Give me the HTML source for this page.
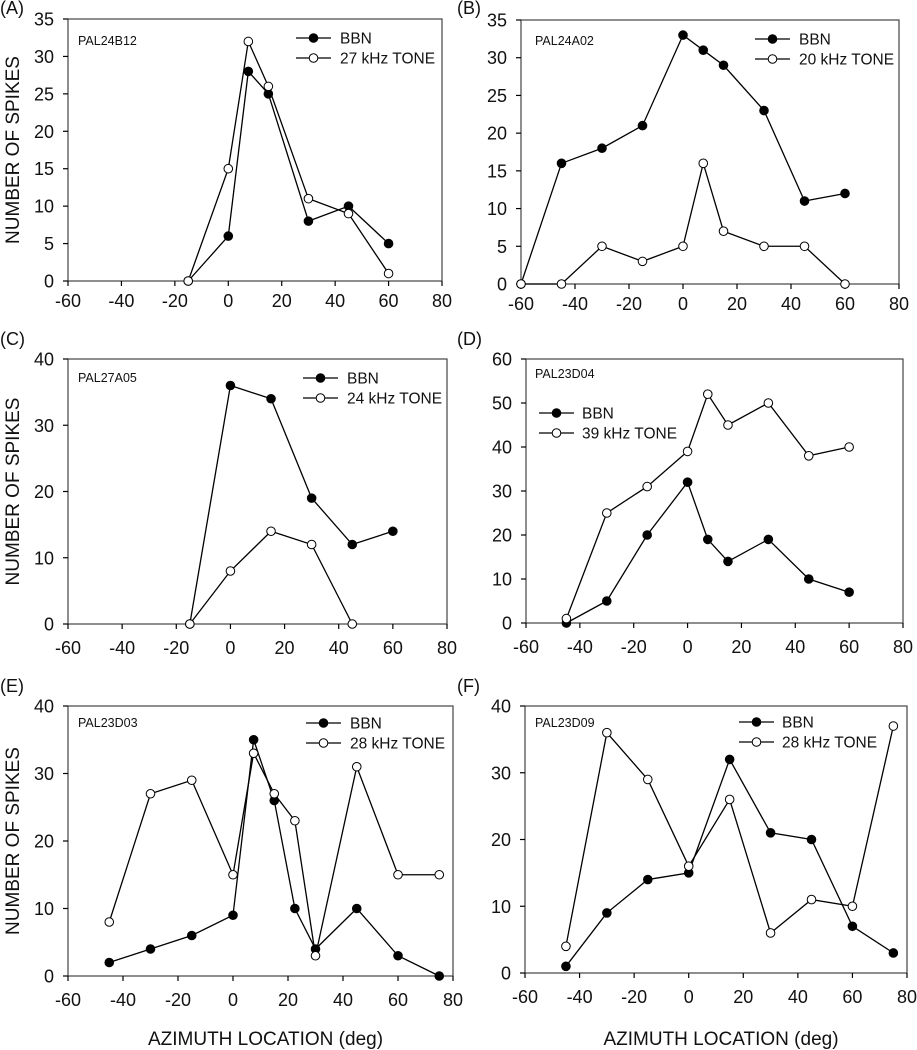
<!DOCTYPE html>
<html><head><meta charset="utf-8"><style>
body{margin:0;background:#fff}
svg{display:block;font-family:"Liberation Sans",Arial,sans-serif}
</style></head><body>
<svg id="fig" width="917" height="1050" viewBox="0 0 917 1050"></svg>
<script>
const xTicks=[-60,-40,-20,0,20,40,60,80];
const panelLetters=["(A)","(B)","(C)","(D)","(E)","(F)"];
const unitNames=["PAL24B12","PAL24A02","PAL27A05","PAL23D04","PAL23D03","PAL23D09"];
const toneNames=["27 kHz TONE","20 kHz TONE","24 kHz TONE","39 kHz TONE","28 kHz TONE","28 kHz TONE"];
const yMax=[35,35,40,60,40,40];
const yStep=[5,5,10,10,10,10];
const bbnX_A=[-15,0,7.5,15,30,45,60];
const bbnY_A=[0,6,28,25,8,10,5];
const toneX_A=[-15,0,7.5,15,30,45,60];
const toneY_A=[0,15,32,26,11,9,1];
const bbnX_B=[-60,-45,-30,-15,0,7.5,15,30,45,60];
const bbnY_B=[0,16,18,21,33,31,29,23,11,12];
const toneX_B=[-60,-45,-30,-15,0,7.5,15,30,45,60];
const toneY_B=[0,0,5,3,5,16,7,5,5,0];
const bbnX_C=[-15,0,15,30,45,60];
const bbnY_C=[0,36,34,19,12,14];
const toneX_C=[-15,0,15,30,45];
const toneY_C=[0,8,14,12,0];
const bbnX_D=[-45,-30,-15,0,7.5,15,30,45,60];
const bbnY_D=[0,5,20,32,19,14,19,10,7];
const toneX_D=[-45,-30,-15,0,7.5,15,30,45,60];
const toneY_D=[1,25,31,39,52,45,50,38,40];
const bbnX_E=[-45,-30,-15,0,7.5,15,22.5,30,45,60,75];
const bbnY_E=[2,4,6,9,35,26,10,4,10,3,0];
const toneX_E=[-45,-30,-15,0,7.5,15,22.5,30,45,60,75];
const toneY_E=[8,27,29,15,33,27,23,3,31,15,15];
const bbnX_F=[-45,-30,-15,0,15,30,45,60,75];
const bbnY_F=[1,9,14,15,32,21,20,7,3];
const toneX_F=[-45,-30,-15,0,15,30,45,60,75];
const toneY_F=[4,36,29,16,26,6,11,10,37];

const boxes=[
 {l:68,r:442,t:19,b:281,leg:[296,38,340],name:[78,45],xo:26},
 {l:521,r:899,t:20,b:284,leg:[755,39,799],name:[535,45],xo:26},
 {l:68,r:447,t:359,b:624,leg:[303,378,347],name:[78,382],xo:30},
 {l:526,r:903,t:359,b:623,leg:[539,413,582],name:[535,378],xo:30},
 {l:68,r:453,t:706,b:976,leg:[306,723,350],name:[78,727],xo:30},
 {l:525,r:907,t:706,b:973,leg:[739,722,782],name:[535,727],xo:30}
];
const series=[[bbnX_A,bbnY_A,toneX_A,toneY_A],[bbnX_B,bbnY_B,toneX_B,toneY_B],[bbnX_C,bbnY_C,toneX_C,toneY_C],[bbnX_D,bbnY_D,toneX_D,toneY_D],[bbnX_E,bbnY_E,toneX_E,toneY_E],[bbnX_F,bbnY_F,toneX_F,toneY_F]];
const NS="http://www.w3.org/2000/svg";
const svg=document.getElementById('fig');
function mk(tag,attrs,parent,text){const e=document.createElementNS(NS,tag);for(const k in attrs)e.setAttribute(k,attrs[k]);if(text!==undefined)e.textContent=text;(parent||svg).appendChild(e);return e;}

boxes.forEach((b,i)=>{
  const g=mk('g',{});
  
  
  const sx=v=>b.l+(v+60)/140*(b.r-b.l);
  const sy=v=>b.b-v/yMax[i]*(b.b-b.t);
  const frame=mk('rect',{x:b.l,y:b.t,width:b.r-b.l,height:b.b-b.t,fill:'none',stroke:'#444','stroke-width':1.2},g);
  
  
  xTicks.forEach(t=>{
    mk('line',{x1:sx(t),x2:sx(t),y1:b.b,y2:b.b+5,stroke:'#000','stroke-width':1.2},g);
    const tl=mk('text',{x:sx(t),y:b.b+b.xo,'font-size':18,'text-anchor':'middle',fill:'#111'},g,String(t));
    
    
  });
  for(let v=0;v<=yMax[i];v+=yStep[i]){
    mk('line',{x1:b.l-5,x2:b.l,y1:sy(v),y2:sy(v),stroke:'#000','stroke-width':1.2},g);
    const tl=mk('text',{x:b.l-14,y:sy(v)+6.5,'font-size':18,'text-anchor':'end',fill:'#111'},g,String(v));
    
    
  }
  const pl=mk('text',{x:i%2?457:0,y:i<2?14:(i<4?345:692),'font-size':18,fill:'#111'},g,panelLetters[i]);
  
  
  const un=mk('text',{x:b.name[0],y:b.name[1],'font-size':12.5,fill:'#111'},g,unitNames[i]);
  
  
  const s=series[i];
  [[s[0],s[1],'#000','bbn'],[s[2],s[3],'#fff','tone']].forEach(([xs,ys,fill,nm])=>{
    const pts=xs.map((x,k)=>sx(x)+','+sy(ys[k])).join(' ');
    const ln=mk('polyline',{points:pts,fill:'none',stroke:'#000','stroke-width':1.3},g);
    
    
    xs.forEach((x,k)=>{
      const c=mk('circle',{cx:sx(x),cy:sy(ys[k]),r:4.3,fill:fill,stroke:'#000','stroke-width':1},g);
      
      
    });
  });
  const [lx,ly,tx]=b.leg;
  [['BBN','#000',0,'legend-bbn'],[toneNames[i],'#fff',20,'legend-tone']].forEach(([lab,fill,dy,nm])=>{
    const lg=mk('g',{},g);
    
    
    mk('line',{x1:lx,x2:lx+35,y1:ly+dy,y2:ly+dy,stroke:'#000','stroke-width':1.3},lg);
    mk('circle',{cx:lx+17.5,cy:ly+dy,r:4.3,fill:fill,stroke:'#000','stroke-width':1},lg);
    mk('text',{x:tx,y:ly+dy+5.5,'font-size':15.5,fill:'#111'},lg,lab);
  });
  if(i%2===0){
    const cy=(b.t+b.b)/2;
    const yt=mk('text',{x:0,y:0,'font-size':19,'text-anchor':'middle',fill:'#111',transform:`translate(19,${cy}) rotate(-90)`},g,'NUMBER OF SPIKES');
    
    
  }
  if(i>=4){
    const xt=mk('text',{x:(b.l+b.r)/2+5,y:1045,'font-size':19,'text-anchor':'middle',fill:'#111'},g,'AZIMUTH LOCATION (deg)');
    
    
  }
});
</script>
</body></html>
